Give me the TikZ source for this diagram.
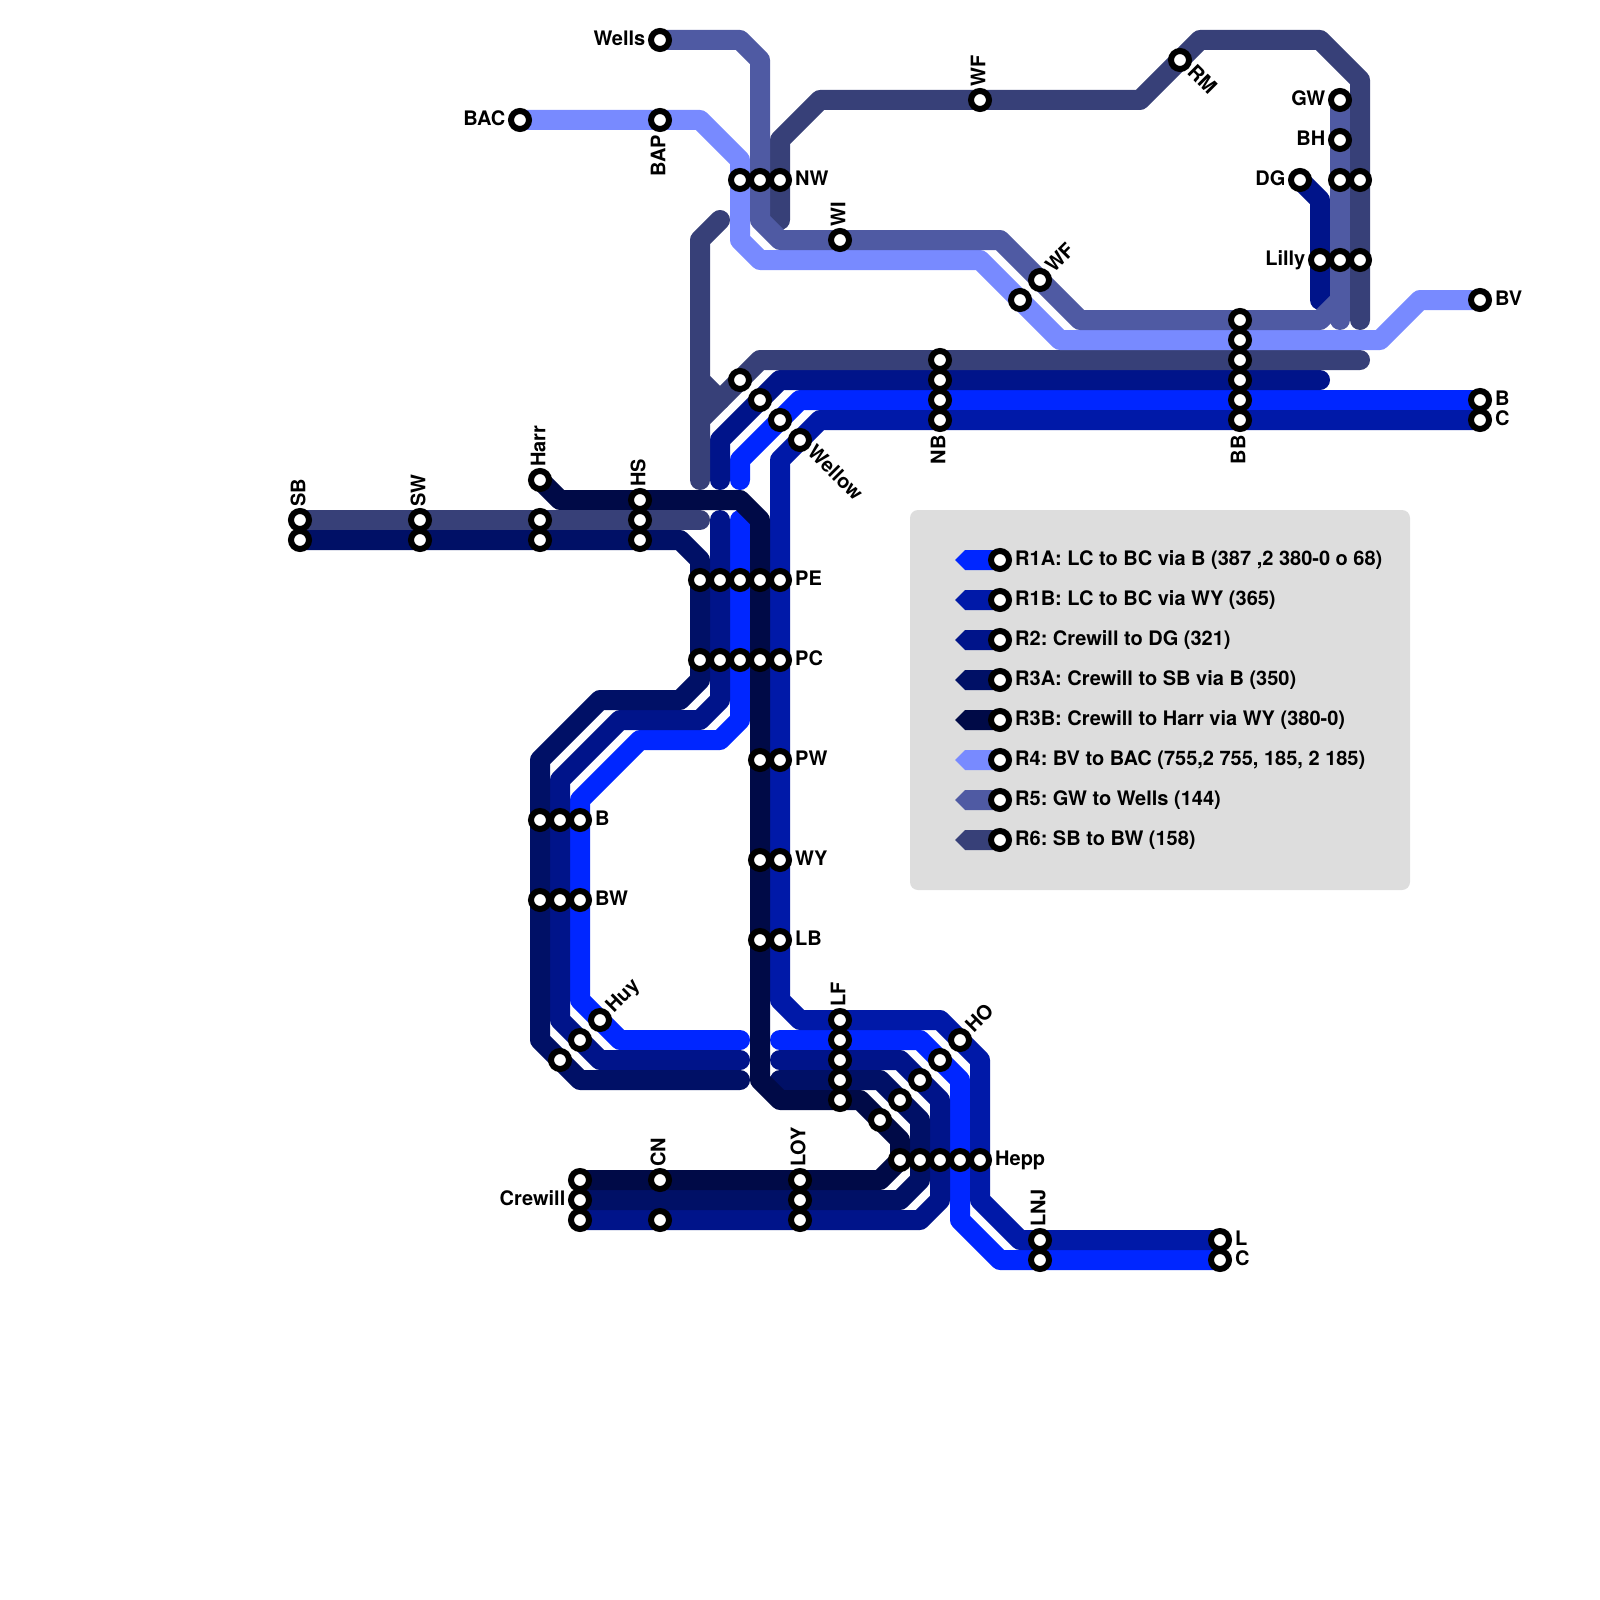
\documentclass[tikz,border=0pt]{standalone}
\usepackage{fontspec}
\setmainfont{TeX Gyre Heros}
\usetikzlibrary{backgrounds}
\definecolor{rAone}{HTML}{0026FF}
\definecolor{rBone}{HTML}{0019A8}
\definecolor{rtwo}{HTML}{00148A}
\definecolor{rAthree}{HTML}{001066}
\definecolor{rBthree}{HTML}{000A47}
\definecolor{rfour}{HTML}{788AFF}
\definecolor{rfive}{HTML}{4F5AA3}
\definecolor{rsix}{HTML}{374078}
\definecolor{panel}{HTML}{DDDDDD}
\tikzset{
  route/.style={line width=20pt,line cap=round,line join=round},
  stop/.style={circle,draw=black,fill=white,line width=6pt,minimum size=18pt,inner sep=0pt},
  lab/.style={font=\fontsize{20pt}{20pt}\selectfont\bfseries\frenchspacing,text=black,text height=14.3pt,text depth=0pt,yshift=1.9pt},
  rlab/.style={lab,anchor=west,inner sep=3pt},
  llab/.style={lab,anchor=east,inner sep=2.5pt},
  toplab/.style={rotate=90,lab,anchor=west,inner sep=1pt},
  botlab/.style={rotate=90,lab,anchor=east,inner sep=3pt},
  uplab/.style={rotate=45,lab,anchor=west,inner sep=2pt},
  downlab/.style={rotate=-45,lab,anchor=west,inner sep=2pt},
  panelbox/.style={fill=panel,rounded corners=8pt,minimum width=500pt,minimum height=380pt},
}
\newcommand{\legswatch}[2]{\fill[#1] (#2.center) ++(0,-.5) -- ++(-1.75,0) -- ++(-.5,.5) -- ++(.5,.5) -- ++(1.75,0) -- cycle;}

\begin{document}
\begin{tikzpicture}[x=20pt,y=-20pt]
  \useasboundingbox (0,0) rectangle (80,80);

  \coordinate (capAa) at (39,52);
  \coordinate (capAb) at (37,52);
  \coordinate (capAc) at (37,26);
  \coordinate (capAd) at (37,24);
  \coordinate (capTa) at (39,53);
  \coordinate (capTb) at (37,53);
  \coordinate (capTc) at (36,26);
  \coordinate (capTd) at (36,24);
  \coordinate (capTe) at (66,19);
  \coordinate (capTf) at (66,15);
  \coordinate (capBa) at (39,54);
  \coordinate (capBb) at (37,54);
  \coordinate (capSa) at (35,26);
  \coordinate (capSb) at (35,24);
  \coordinate (capSc) at (68,18);
  \coordinate (capSd) at (68,16);
  \coordinate (capSe) at (39,11);
  \coordinate (capSf) at (36,11);
  \coordinate (capSg) at (36,20);
  \coordinate (forkS) at (35,19);
  \coordinate (capFa) at (67,16);
  \coordinate (capFb) at (67,15);

  \node[stop] (wells) at (33,2) {};
  \node[stop] (bac) at (26,6) {};
  \node[stop] (bap) at (33,6) {};
  \node[stop] (nwA) at (37,9) {};
  \node[stop] (nwB) at (38,9) {};
  \node[stop] (nwC) at (39,9) {};
  \node[stop] (wi) at (42,12) {};
  \node[stop] (wfT) at (49,5) {};
  \node[stop] (rm) at (59,3) {};
  \node[stop] (gw) at (67,5) {};
  \node[stop] (bh) at (67,7) {};
  \node[stop] (dg) at (65,9) {};
  \node[stop] (dgB) at (67,9) {};
  \node[stop] (dgC) at (68,9) {};
  \node[stop] (lillyA) at (66,13) {};
  \node[stop] (lillyB) at (67,13) {};
  \node[stop] (lillyC) at (68,13) {};
  \node[stop] (wfL) at (52,14) {};
  \node[stop] (wfU) at (51,15) {};
  \node[stop] (bv) at (74,15) {};
  \node[stop] (bbA) at (62,16) {};
  \node[stop] (bbB) at (62,17) {};
  \node[stop] (bbC) at (62,18) {};
  \node[stop] (bbD) at (62,19) {};
  \node[stop] (bbE) at (62,20) {};
  \node[stop] (bbF) at (62,21) {};
  \node[stop] (nbA) at (47,18) {};
  \node[stop] (nbB) at (47,19) {};
  \node[stop] (nbC) at (47,20) {};
  \node[stop] (nbD) at (47,21) {};
  \node[stop] (bEnd) at (74,20) {};
  \node[stop] (cEnd) at (74,21) {};
  \node[stop] (jnA) at (37,19) {};
  \node[stop] (jnB) at (38,20) {};
  \node[stop] (jnC) at (39,21) {};
  \node[stop] (wellow) at (40,22) {};
  \node[stop] (sbA) at (15,26) {};
  \node[stop] (sbB) at (15,27) {};
  \node[stop] (swA) at (21,26) {};
  \node[stop] (swB) at (21,27) {};
  \node[stop] (harr) at (27,24) {};
  \node[stop] (harrA) at (27,26) {};
  \node[stop] (harrB) at (27,27) {};
  \node[stop] (hsA) at (32,25) {};
  \node[stop] (hsB) at (32,26) {};
  \node[stop] (hsC) at (32,27) {};
  \node[stop] (peA) at (35,29) {};
  \node[stop] (peB) at (36,29) {};
  \node[stop] (peC) at (37,29) {};
  \node[stop] (peD) at (38,29) {};
  \node[stop] (peE) at (39,29) {};
  \node[stop] (pcA) at (35,33) {};
  \node[stop] (pcB) at (36,33) {};
  \node[stop] (pcC) at (37,33) {};
  \node[stop] (pcD) at (38,33) {};
  \node[stop] (pcE) at (39,33) {};
  \node[stop] (pwA) at (38,38) {};
  \node[stop] (pwB) at (39,38) {};
  \node[stop] (wyA) at (38,43) {};
  \node[stop] (wyB) at (39,43) {};
  \node[stop] (lbA) at (38,47) {};
  \node[stop] (lbB) at (39,47) {};
  \node[stop] (bA) at (27,41) {};
  \node[stop] (bB) at (28,41) {};
  \node[stop] (bC) at (29,41) {};
  \node[stop] (bwA) at (27,45) {};
  \node[stop] (bwB) at (28,45) {};
  \node[stop] (bwC) at (29,45) {};
  \node[stop] (huy) at (30,51) {};
  \node[stop] (huyB) at (29,52) {};
  \node[stop] (huyC) at (28,53) {};
  \node[stop] (lfA) at (42,51) {};
  \node[stop] (lfB) at (42,52) {};
  \node[stop] (lfC) at (42,53) {};
  \node[stop] (lfD) at (42,54) {};
  \node[stop] (lfE) at (42,55) {};
  \node[stop] (hoE) at (44,56) {};
  \node[stop] (hoD) at (45,55) {};
  \node[stop] (hoC) at (46,54) {};
  \node[stop] (hoB) at (47,53) {};
  \node[stop] (ho) at (48,52) {};
  \node[stop] (heppA) at (45,58) {};
  \node[stop] (heppB) at (46,58) {};
  \node[stop] (heppC) at (47,58) {};
  \node[stop] (heppD) at (48,58) {};
  \node[stop] (heppE) at (49,58) {};
  \node[stop] (crewA) at (29,59) {};
  \node[stop] (crewB) at (29,60) {};
  \node[stop] (crewC) at (29,61) {};
  \node[stop] (cnA) at (33,59) {};
  \node[stop] (cnC) at (33,61) {};
  \node[stop] (loyA) at (40,59) {};
  \node[stop] (loyB) at (40,60) {};
  \node[stop] (loyC) at (40,61) {};
  \node[stop] (lnjA) at (52,62) {};
  \node[stop] (lnjB) at (52,63) {};
  \node[stop] (lEnd) at (61,62) {};
  \node[stop] (cSouth) at (61,63) {};
  \node[stop] (legA) at (50,28) {};
  \node[stop] (legB) at (50,30) {};
  \node[stop] (legC) at (50,32) {};
  \node[stop] (legD) at (50,34) {};
  \node[stop] (legE) at (50,36) {};
  \node[stop] (legF) at (50,38) {};
  \node[stop] (legG) at (50,40) {};
  \node[stop] (legH) at (50,42) {};

  \begin{scope}[on background layer]
    \node[panelbox] (panel) at (58,35) {};
    \draw[route,rAone] (cSouth.center) -- (lnjB.center) -- (50,63) -- (48,61) -- (heppD.center) -- (48,54) -- (hoB.center) -- (46,52) -- (lfB.center) -- (capAa);
    \draw[route,rAone] (capAb) -- (31,52) -- (huy.center) -- (29,50) -- (bwC.center) -- (bC.center) -- (29,40) -- (32,37) -- (36,37) -- (37,36) -- (pcC.center) -- (peC.center) -- (capAc);
    \draw[route,rAone] (capAd) -- (37,23) -- (jnC.center) -- (40,20) -- (nbC.center) -- (bbE.center) -- (bEnd.center);
    \draw[route,rBone] (lEnd.center) -- (lnjA.center) -- (51,62) -- (49,60) -- (heppE.center) -- (49,53) -- (ho.center) -- (47,51) -- (lfA.center) -- (40,51) -- (39,50) -- (lbB.center) -- (wyB.center) -- (pwB.center) -- (pcE.center) -- (peE.center) -- (39,23) -- (wellow.center) -- (41,21) -- (nbD.center) -- (bbF.center) -- (cEnd.center);
    \draw[route,rtwo] (crewC.center) -- (cnC.center) -- (loyC.center) -- (46,61) -- (47,60) -- (heppC.center) -- (47,55) -- (hoC.center) -- (45,53) -- (lfC.center) -- (capTa);
    \draw[route,rtwo] (capTb) -- (30,53) -- (huyB.center) -- (28,51) -- (bwB.center) -- (bB.center) -- (28,39) -- (31,36) -- (35,36) -- (36,35) -- (pcB.center) -- (peB.center) -- (capTc);
    \draw[route,rtwo] (capTd) -- (36,22) -- (jnB.center) -- (39,19) -- (nbB.center) -- (bbD.center) -- (capTe);
    \draw[route,rtwo] (dg.center) -- (66,10) -- (lillyA.center) -- (capTf);
    \draw[route,rAthree] (crewB.center) -- (loyB.center) -- (45,60) -- (46,59) -- (heppB.center) -- (46,56) -- (hoD.center) -- (44,54) -- (lfD.center) -- (capBa);
    \draw[route,rAthree] (capBb) -- (29,54) -- (huyC.center) -- (27,52) -- (bwA.center) -- (bA.center) -- (27,38) -- (30,35) -- (34,35) -- (35,34) -- (pcA.center) -- (peA.center) -- (35,28) -- (34,27) -- (hsC.center) -- (harrB.center) -- (swB.center) -- (sbB.center);
    \draw[route,rBthree] (crewA.center) -- (cnA.center) -- (loyA.center) -- (44,59) -- (45,58) -- (heppA.center) -- (45,57) -- (hoE.center) -- (43,55) -- (lfE.center) -- (39,55) -- (38,54) -- (lbA.center) -- (wyA.center) -- (pwA.center) -- (pcD.center) -- (peD.center) -- (38,26) -- (37,25) -- (hsA.center) -- (28,25) -- (harr.center);
    \draw[route,rsix] (sbA.center) -- (swA.center) -- (harrA.center) -- (hsB.center) -- (capSa);
    \draw[route,rsix] (capSb) -- (35,21) -- (jnA.center) -- (38,18) -- (nbA.center) -- (bbC.center) -- (capSc);
    \draw[route,rsix] (capSd) -- (lillyC.center) -- (dgC.center) -- (68,4) -- (66,2) -- (60,2) -- (rm.center) -- (57,5) -- (wfT.center) -- (41,5) -- (39,7) -- (nwC.center) -- (capSe);
    \draw[route,rsix] (capSf) -- (35,12) -- (forkS) -- (capSg);
    \draw[route,rsix] (forkS) -- (35,21);
    \draw[route,rfour] (bv.center) -- (71,15) -- (69,17) -- (bbB.center) -- (53,17) -- (wfU.center) -- (49,13) -- (38,13) -- (37,12) -- (nwA.center) -- (37,8) -- (35,6) -- (bap.center) -- (bac.center);
    \draw[route,rfive] (gw.center) -- (bh.center) -- (dgB.center) -- (lillyB.center) -- (capFa);
    \draw[route,rfive] (capFb) -- (66,16) -- (bbA.center) -- (54,16) -- (wfL.center) -- (50,12) -- (wi.center) -- (39,12) -- (38,11) -- (nwB.center) -- (38,3) -- (37,2) -- (wells.center);
    \legswatch{rAone}{legA}
    \legswatch{rBone}{legB}
    \legswatch{rtwo}{legC}
    \legswatch{rAthree}{legD}
    \legswatch{rBthree}{legE}
    \legswatch{rfour}{legF}
    \legswatch{rfive}{legG}
    \legswatch{rsix}{legH}
  \end{scope}

  \node[llab] (wellsL) at (wells.west) {Wells};
  \node[llab] (bacL) at (bac.west) {BAC};
  \node[botlab] (bapL) at (bap.south) {BAP};
  \node[rlab] (nwL) at (nwC.east) {NW};
  \node[toplab] (wiL) at (wi.north) {WI};
  \node[toplab] (wfTL) at (wfT.north) {WF};
  \node[downlab] (rmL) at (rm.south east) {RM};
  \node[llab] (gwL) at (gw.west) {GW};
  \node[llab] (bhL) at (bh.west) {BH};
  \node[llab] (dgL) at (dg.west) {DG};
  \node[llab] (lillyL) at (lillyA.west) {Lilly};
  \node[uplab] (wfLL) at (wfL.north east) {WF};
  \node[rlab] (bvL) at (bv.east) {BV};
  \node[botlab] (nbL) at (nbD.south) {NB};
  \node[botlab] (bbL) at (bbF.south) {BB};
  \node[rlab] (bEndL) at (bEnd.east) {B};
  \node[rlab] (cEndL) at (cEnd.east) {C};
  \node[downlab] (wellowL) at (wellow.south east) {Wellow};
  \node[toplab] (sbL) at (sbA.north) {SB};
  \node[toplab] (swL) at (swA.north) {SW};
  \node[toplab] (harrL) at (harr.north) {Harr};
  \node[toplab] (hsL) at (hsA.north) {HS};
  \node[rlab] (peL) at (peE.east) {PE};
  \node[rlab] (pcL) at (pcE.east) {PC};
  \node[rlab] (pwL) at (pwB.east) {PW};
  \node[rlab] (wyL) at (wyB.east) {WY};
  \node[rlab] (lbL) at (lbB.east) {LB};
  \node[rlab] (bL) at (bC.east) {B};
  \node[rlab] (bwL) at (bwC.east) {BW};
  \node[uplab] (huyL) at (huy.north east) {Huy};
  \node[toplab] (lfL) at (lfA.north) {LF};
  \node[uplab] (hoL) at (ho.north east) {HO};
  \node[rlab] (heppL) at (heppE.east) {Hepp};
  \node[llab] (crewL) at (crewB.west) {Crewill};
  \node[toplab] (cnL) at (cnA.north) {CN};
  \node[toplab] (loyL) at (loyA.north) {LOY};
  \node[toplab] (lnjL) at (lnjA.north) {LNJ};
  \node[rlab] (lEndL) at (lEnd.east) {L};
  \node[rlab] (cSouthL) at (cSouth.east) {C};

  \node[rlab] (legAt) at (legA.east) {R1A: LC to BC via B (387 ,2 380-0 o 68)};
  \node[rlab] (legBt) at (legB.east) {R1B: LC to BC via WY (365)};
  \node[rlab] (legCt) at (legC.east) {R2: Crewill to DG (321)};
  \node[rlab] (legDt) at (legD.east) {R3A: Crewill to SB via B (350)};
  \node[rlab] (legEt) at (legE.east) {R3B: Crewill to Harr via WY (380-0)};
  \node[rlab] (legFt) at (legF.east) {R4: BV to BAC (755,2 755, 185, 2 185)};
  \node[rlab] (legGt) at (legG.east) {R5: GW to Wells (144)};
  \node[rlab] (legHt) at (legH.east) {R6: SB to BW (158)};
\end{tikzpicture}
\end{document}
